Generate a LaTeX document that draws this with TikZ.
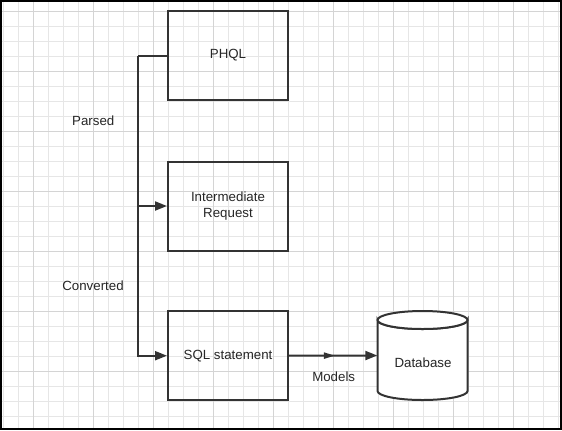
\documentclass[tikz,border=0pt]{standalone}
\usepackage{fontspec}
\setmainfont{Liberation Sans}
\usetikzlibrary{arrows.meta,decorations.markings}
\definecolor{ink}{HTML}{333333}
\definecolor{gridlt}{HTML}{E6E6E6}
\definecolor{griddk}{HTML}{D4D4D4}
\tikzset{
  stepbox/.style={draw=ink, line width=2bp, minimum width=120bp, minimum height=89bp, inner sep=0pt, align=center, font=\fontsize{13.3bp}{15.5bp}\selectfont, text=black!85},
  dbarea/.style={minimum width=90bp, minimum height=89bp, inner sep=0pt},
  cylline/.style={draw=ink, line width=2bp, fill=white},
  lbl/.style={font=\fontsize{13.3bp}{15.5bp}\selectfont, text=black!85, inner sep=0pt},
  conn/.style={draw=ink, line width=2bp},
  arr/.style={conn, -{Triangle[length=12bp, width=9bp]}},
  midarr/.style={postaction={decorate, decoration={markings, mark=at position 0.52 with {\arrow{Triangle[length=11bp, width=6bp]}}}}}
}
\begin{document}
\begin{tikzpicture}[x=1bp, y=-1bp]
\useasboundingbox (0,0) rectangle (562,430);
\fill[white] (0,0) rectangle (562,430);
% grid
\foreach \gx in {3.3,18.3,...,560} {\draw[gridlt, line width=1bp] (\gx,0) -- (\gx,430);}
\foreach \gy in {11.7,26.7,...,430} {\draw[gridlt, line width=1bp] (0,\gy) -- (562,\gy);}
\foreach \gx in {33.3,93.3,...,560} {\draw[griddk, line width=1bp] (\gx,0) -- (\gx,430);}
\foreach \gy in {11.7,71.7,...,430} {\draw[griddk, line width=1bp] (0,\gy) -- (562,\gy);}
% frame
\draw[black, line width=2.5bp] (1.2,1.2) rectangle (560.8,428.8);
% nodes
\node[stepbox] (phql) at (228,55.5) {PHQL};
\node[stepbox] (inter) at (228,206) {Intermediate\\Request};
\node[stepbox] (sql) at (228,355.7) {SQL statement};
\node[dbarea] (db) at (422.5,355.5) {};
% cylinder drawn directly
\draw[cylline] (377.5,320) -- (377.5,391) arc (180:0:45 and 9) -- (467.5,320) arc (0:180:45 and 9) -- cycle;
\draw[cylline] (422.5,320) ellipse (45 and 9);
\node[lbl] (dbtext) at (423,363) {Database};
\node[lbl] (parsed) at (93.3,121) {Parsed};
\node[lbl] (converted) at (93,285.7) {Converted};
\node[lbl] (models) at (333.7,376.7) {Models};
\coordinate (j) at (137.7,55.7);
% connectors
\draw[conn] (phql.west |- j) -- (j);
\draw[arr] (j) |- (sql.west);
\draw[arr] (j) |- (inter.west);
\draw[arr, midarr] (sql.east) -- (db.west);
\end{tikzpicture}
\end{document}
